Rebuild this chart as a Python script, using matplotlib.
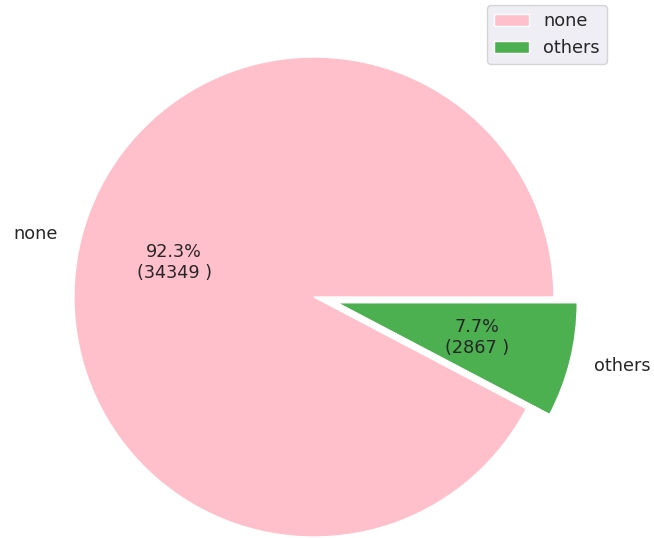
import matplotlib
matplotlib.use("Agg")
import matplotlib.pyplot as plt
import seaborn as sns

sns.set_style("darkgrid")
plt.rcParams['font.family'] = ['DejaVu Sans']

labels = ["none", "others"]
counts = [34349, 2867]
colors = ["pink", "#4CAF50"]
explode = [0, 0.1]

total = sum(counts)


def fmt(pct):
    n = int(round(pct * total / 100.0))
    return "{:.1f}%\n({:d} )".format(pct, n)


FS = 12.7
fig = plt.figure(figsize=(6.54, 5.38), dpi=100)
ax = fig.add_axes([0, 0, 1, 1])
wedges, texts, autotexts = ax.pie(counts, labels=labels, colors=colors, explode=explode,
                                  autopct=fmt, textprops={"fontsize": FS, "color": ".15"})
ax.set_aspect("equal")
ax.set_xlim(-1.308, 1.417)
ax.set_ylim(-1.004, 1.2375)

ax.legend(wedges, labels, loc="upper right", fontsize=FS, borderaxespad=0,
          bbox_to_anchor=(607 / 654, 1 - 5 / 538), bbox_transform=fig.transFigure,
          facecolor="#EAEAF2", frameon=True)

fig.savefig("out.png", dpi=100)
